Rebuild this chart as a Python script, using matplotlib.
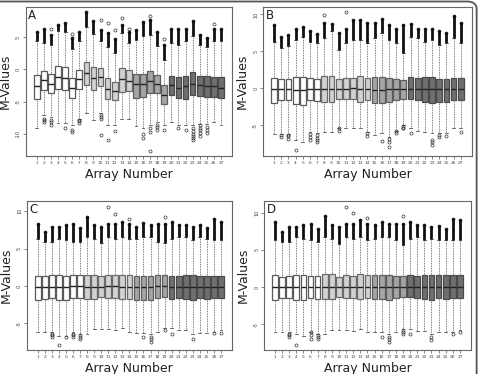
import matplotlib
matplotlib.use('Agg')
import matplotlib.pyplot as plt
from matplotlib.patches import FancyBboxPatch

arrays = list(range(1, 28))
array_labels = [str(i) for i in arrays]
group_of_array = ['w'] * 7 + ['l'] * 7 + ['m'] * 5 + ['d'] * 8

# ---------------- Panel A ----------------
A_q3 = [-0.9, -0.2, -0.7, 0.5, 0.4, -1.4, -0.1, 1.2, 0.4, 0.2, -1.4, -1.9, 0.2, -0.1, -0.7, -0.7, -0.2, -0.8, -2.4, -1.0, -1.2, -1.0, -0.4, -1.0, -1.0, -1.1, -1.2]
A_med = [-2.6, -1.6, -2.2, -1.2, -1.4, -2.9, -1.5, -0.6, -1.4, -1.2, -3.0, -3.4, -1.5, -1.8, -2.3, -2.3, -1.8, -2.3, -3.9, -2.4, -2.8, -2.6, -2.2, -2.4, -2.5, -2.6, -2.8]
A_q1 = [-4.5, -3.2, -3.7, -3.1, -3.2, -4.4, -3.1, -2.4, -3.2, -2.6, -4.5, -4.7, -3.5, -3.4, -4.4, -4.2, -3.7, -3.7, -5.3, -4.0, -4.4, -4.5, -4.0, -4.1, -4.2, -4.2, -4.4]
A_wlo = [-9.0, -7.1, -7.3, -8.2, -8.2, -8.6, -7.7, -6.8, -7.8, -6.8, -8.5, -8.5, -7.7, -7.7, -8.7, -9.1, -8.6, -8.1, -8.6, -8.1, -8.5, -8.6, -8.6, -8.4, -8.4, -8.1, -8.6]
A_whi = [4.3, 4.1, 3.8, 5.9, 5.8, 3.1, 4.3, 6.6, 5.5, 4.3, 3.5, 2.6, 5.6, 4.0, 4.5, 5.1, 5.3, 3.6, 1.5, 4.0, 3.8, 4.3, 5.1, 3.8, 3.5, 4.3, 4.3]
A_top = [5.7, 6.2, 5.3, 6.9, 7.1, 4.9, 5.7, 8.9, 7.5, 6.1, 5.6, 4.7, 6.9, 5.8, 6.1, 7.3, 7.6, 5.7, 3.8, 6.2, 6.2, 6.2, 7.5, 5.3, 4.9, 6.3, 6.2]
A_iso = [None, None, 6.2, None, None, 5.4, None, None, None, 7.6, 7.1, 6.0, 7.9, 6.3, None, None, 8.2, None, 4.7, None, None, None, None, None, None, 7.0, None]
A_low = [[], [-7.6, -7.8, -8.1], [-7.8, -8.1, -8.5], [], [-9.0], [-9.4, -9.7], [-7.8, -8.0, -8.2], [], [],
         [-7.0, -7.3, -7.6, -10.1], [-10.9], [-9.5], [], [], [], [-9.9, -10.6], [-9.1, -9.6, -12.6],
         [-8.5, -8.9, -9.3], [-9.4], [], [-9.1], [-9.4], [-9.1, -9.5, -9.9, -10.3, -10.6, -10.9],
         [-8.6, -9.0, -9.4, -9.8, -10.2], [-8.9, -9.3, -9.8], [], []]
A_yticks = [-10, -5, 0, 5]

# ---------------- Panel B ----------------
B_q3 = [1.4, 1.3, 1.3, 1.5, 1.5, 1.4, 1.3, 1.7, 1.7, 1.3, 1.4, 1.4, 1.7, 1.4, 1.5, 1.5, 1.4, 1.3, 1.1, 1.5, 1.4, 1.5, 1.6, 1.3, 1.3, 1.4, 1.4]
B_med = [-0.1, -0.1, -0.1, -0.2, -0.2, -0.1, -0.1, -0.1, -0.1, -0.1, -0.1, 0.0, -0.1, -0.1, -0.2, -0.2, -0.1, -0.1, -0.1, -0.1, -0.1, -0.1, -0.1, -0.1, -0.1, -0.1, -0.1]
B_q1 = [-2.0, -1.6, -1.6, -2.1, -2.2, -1.6, -1.7, -1.8, -1.9, -1.4, -1.5, -1.5, -1.8, -1.6, -2.0, -2.0, -1.9, -1.6, -1.4, -1.5, -1.6, -1.9, -2.0, -1.8, -1.8, -1.6, -1.6]
B_wlo = [-6.2, -6.2, -6.2, -7.0, -7.2, -5.9, -6.1, -5.9, -5.9, -5.3, -5.4, -5.4, -5.4, -5.9, -6.3, -6.1, -6.6, -5.7, -5.0, -5.4, -5.7, -5.9, -6.1, -6.1, -6.1, -5.4, -5.3]
B_whi = [6.3, 5.4, 5.7, 6.6, 7.0, 6.3, 6.1, 6.8, 7.7, 5.2, 6.1, 6.6, 6.6, 6.1, 6.8, 7.5, 6.6, 6.1, 4.8, 7.0, 6.8, 6.3, 6.6, 5.9, 6.1, 6.8, 6.1]
B_top = [8.6, 6.9, 7.2, 8.1, 8.3, 7.7, 7.4, 8.8, 8.7, 7.5, 8.1, 9.3, 9.2, 8.8, 8.9, 9.4, 8.6, 8.1, 8.6, 8.7, 8.1, 8.1, 8.1, 7.7, 7.5, 9.8, 8.9]
B_iso = [None] * 7 + [9.9, None, None, 10.3] + [None] * 16
B_low = [[], [-6.3, -6.6], [-6.3, -6.5, -6.8], [-8.4], [], [-6.2, -6.6, -7.0], [-6.3, -6.7, -7.0, -7.2], [], [],
         [-5.4, -5.7], [], [], [], [-6.1, -6.4], [], [-7.1], [-6.8, -7.3, -7.9], [-5.8, -6.1],
         [-5.1, -5.3, -5.4], [-6.0], [], [], [-7.0, -7.3, -7.7], [-6.3, -6.6], [-6.5], [], [-5.9]]
B_yticks = [-5, 0, 5, 10]

# ---------------- Panel C ----------------
C_q3 = [1.3, 1.3, 1.4, 1.4, 1.3, 1.4, 1.4, 1.4, 1.4, 1.3, 1.4, 1.4, 1.4, 1.4, 1.3, 1.3, 1.3, 1.4, 1.4, 1.3, 1.3, 1.4, 1.4, 1.3, 1.3, 1.3, 1.3]
C_med = [-0.1, -0.1, -0.1, -0.1, -0.1, 0.0, 0.0, -0.1, -0.1, -0.1, 0.0, 0.0, -0.1, -0.1, -0.1, -0.1, -0.1, 0.0, 0.0, -0.1, -0.1, -0.1, -0.1, -0.1, -0.1, -0.1, -0.1]
C_q1 = [-1.9, -1.7, -1.6, -1.9, -1.9, -1.6, -1.6, -1.8, -1.8, -1.5, -1.6, -1.6, -1.8, -1.7, -1.9, -1.9, -1.9, -1.6, -1.5, -1.7, -1.6, -1.8, -1.9, -1.6, -1.7, -1.6, -1.6]
C_wlo = [-6.2, -6.2, -6.2, -6.7, -6.7, -6.2, -6.4, -6.4, -5.8, -5.8, -5.8, -5.9, -5.7, -6.2, -6.3, -6.3, -6.4, -6.2, -5.7, -5.7, -5.9, -5.9, -6.4, -6.3, -6.3, -6.2, -5.9]
C_whi = [6.3, 5.9, 5.9, 6.3, 6.1, 5.9, 5.9, 6.6, 6.3, 5.7, 6.6, 6.3, 6.6, 6.3, 6.3, 6.6, 6.6, 5.9, 5.7, 6.3, 6.6, 6.6, 6.1, 6.6, 6.3, 6.1, 6.1]
C_top = [8.3, 7.2, 7.9, 7.9, 8.1, 8.3, 7.7, 9.2, 8.1, 7.9, 8.3, 8.3, 8.6, 8.3, 7.9, 8.4, 8.1, 8.3, 8.3, 8.6, 8.1, 8.1, 7.9, 8.1, 7.7, 9.0, 8.6]
C_iso = [None] * 10 + [10.6, 9.7, None, 9.0] + [None] * 4 + [9.2] + [None] * 8
C_low = [[], [], [-6.4, -6.6, -6.8], [-7.9], [-6.8], [-6.4, -6.6, -6.8], [-6.6, -6.9, -7.1], [], [], [], [], [], [], [], [],
         [-6.8], [-6.8, -7.1, -7.5], [], [-5.9], [-6.4], [], [], [-7.1], [], [], [-6.3], [-6.3]]
C_yticks = [-5, 0, 5, 10]

# ---------------- Panel D ----------------
D_q3 = [1.6, 1.4, 1.5, 1.6, 1.6, 1.5, 1.5, 1.7, 1.7, 1.4, 1.6, 1.5, 1.7, 1.6, 1.6, 1.6, 1.6, 1.5, 1.5, 1.6, 1.5, 1.6, 1.6, 1.6, 1.6, 1.6, 1.6]
D_med = [0.0] * 27
D_q1 = [-1.7, -1.5, -1.5, -1.8, -1.8, -1.5, -1.6, -1.6, -1.6, -1.3, -1.5, -1.5, -1.6, -1.5, -1.6, -1.6, -1.7, -1.5, -1.3, -1.4, -1.5, -1.6, -1.7, -1.5, -1.6, -1.5, -1.5]
D_wlo = [-6.1, -6.1, -6.1, -6.3, -6.6, -6.1, -6.3, -6.3, -5.8, -5.8, -5.8, -5.9, -5.6, -6.1, -6.1, -6.1, -6.3, -6.1, -5.6, -5.7, -5.9, -5.9, -6.3, -6.1, -6.1, -6.1, -5.8]
D_whi = [6.3, 6.1, 6.1, 6.7, 6.5, 6.3, 6.1, 6.7, 6.5, 5.8, 6.7, 6.5, 6.7, 6.3, 6.5, 6.7, 6.7, 6.3, 5.6, 6.5, 6.7, 6.3, 6.5, 6.3, 6.3, 6.3, 6.3]
D_top = [8.7, 7.4, 8.1, 8.1, 8.3, 8.5, 7.8, 9.6, 8.4, 8.1, 8.5, 8.5, 9.0, 8.5, 8.3, 8.7, 8.5, 8.5, 8.5, 8.7, 8.4, 8.3, 8.1, 8.2, 7.8, 9.2, 9.0]
D_iso = [None] * 10 + [10.8, 9.9, None, 9.3] + [None] * 4 + [9.5] + [None] * 8
D_low = [[], [], [-6.3, -6.5, -6.7], [-7.8], [], [-6.1, -6.5, -7.0], [-6.5, -6.8, -7.0], [], [], [], [], [], [], [], [],
         [-6.7], [-6.7, -7.0, -7.4], [], [-5.8, -6.0, -6.3], [-6.3], [], [], [-6.7, -7.2], [], [], [-6.3], [-6.1]]
D_yticks = [-5, 0, 5, 10]

FILL = {'w': '#ffffff', 'l': '#d2d2d2', 'm': '#a5a5a5', 'd': '#6f6f6f'}
EDGE = {'w': '#5a5a5a', 'l': '#6a6a6a', 'm': '#5e5e5e', 'd': '#4a4a4a'}

fig = plt.figure(figsize=(4.8, 3.74), dpi=100)


def panel(rect, letter, q1, med, q3, wlo, whi, top, iso, low, ylim, yticks):
    ax = fig.add_axes(rect)
    stats = [dict(med=m, q1=a, q3=b, whislo=lo, whishi=hi, fliers=[])
             for a, m, b, lo, hi in zip(q1, med, q3, wlo, whi)]
    bp = ax.bxp(stats, positions=arrays, widths=0.8, patch_artist=True, showfliers=False,
                boxprops=dict(linewidth=0.9),
                whiskerprops=dict(linestyle=(0, (1, 1)), linewidth=0.6, color='#555555'),
                capprops=dict(linewidth=0.6, color='#555555'),
                medianprops=dict(color='#222222', linewidth=1.0))
    for patch, g in zip(bp['boxes'], group_of_array):
        patch.set_facecolor(FILL[g])
        patch.set_edgecolor(EDGE[g])
    # dense high-outlier columns
    ax.vlines(arrays, whi, top, color='#111111', linewidth=2.0)
    ax.plot(arrays, top, 'o', ms=2.2, mfc='#111111', mec='#111111', mew=0.4)
    for x, v in zip(arrays, iso):
        if v is not None:
            ax.plot([x], [v], 'o', ms=2.2, mfc='none', mec='#333333', mew=0.5)
    for x, vals in zip(arrays, low):
        if vals:
            ax.plot([x] * len(vals), vals, 'o', ms=2.2, mfc='none', mec='#333333', mew=0.5)
    ax.set_xlim(-0.54, 28.54)
    ax.set_ylim(*ylim)
    ax.set_xticks(arrays)
    ax.set_xticklabels(array_labels, fontsize=3.2, color='#444444')
    ax.set_yticks(yticks)
    ax.set_yticklabels([str(t) for t in yticks], fontsize=3.6, color='#444444',
                       rotation=90, va='center')
    ax.tick_params(length=2, width=0.5, color='#555555', pad=1.5)
    for s in ax.spines.values():
        s.set_color('#666666')
        s.set_linewidth(0.8)
    ax.set_xlabel('Array Number', fontsize=9, color='#222222', labelpad=2)
    ax.set_ylabel('M-Values', fontsize=9, color='#222222', labelpad=3)
    ax.text(0.012, 0.985, letter, transform=ax.transAxes, fontsize=8.5, va='top', ha='left',
            color='#222222')
    return ax


panel([0.054, 0.583, 0.429, 0.398], 'A', A_q1, A_med, A_q3, A_wlo, A_whi, A_top, A_iso, A_low,
      (-13.35, 9.6), A_yticks)
panel([0.548, 0.583, 0.435, 0.398], 'B', B_q1, B_med, B_q3, B_wlo, B_whi, B_top, B_iso, B_low,
      (-9.14, 11.0), B_yticks)
panel([0.056, 0.064, 0.427, 0.399], 'C', C_q1, C_med, C_q3, C_wlo, C_whi, C_top, C_iso, C_low,
      (-8.6, 11.4), C_yticks)
panel([0.55, 0.064, 0.431, 0.399], 'D', D_q1, D_med, D_q3, D_wlo, D_whi, D_top, D_iso, D_low,
      (-8.5, 11.6), D_yticks)

frame = FancyBboxPatch((-0.05, -0.2), 1.043, 1.196, transform=fig.transFigure,
                       boxstyle='round,pad=0,rounding_size=0.02', fill=False,
                       edgecolor='#555555', linewidth=1.3, clip_on=False)
fig.patches.append(frame)

fig.savefig('out.png', dpi=100)
